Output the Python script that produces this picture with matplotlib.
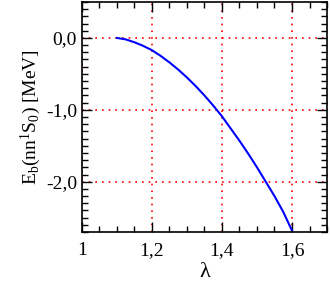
import numpy as np
import matplotlib
matplotlib.use("Agg")
import matplotlib.pyplot as plt
from matplotlib.ticker import MultipleLocator, FuncFormatter

#--- Data
lam = [1.10, 1.125, 1.15, 1.175, 1.20, 1.225, 1.25, 1.275, 1.30, 1.325, 1.35,
       1.375, 1.40, 1.425, 1.45, 1.475, 1.50, 1.525, 1.55, 1.575, 1.60]
e_b = [0.00, -0.02, -0.06, -0.11, -0.17, -0.25, -0.34, -0.44, -0.55, -0.67, -0.80,
       -0.94, -1.09, -1.26, -1.43, -1.61, -1.80, -2.00, -2.20, -2.42, -2.68]

plt.rcParams['font.family'] = 'Liberation Serif'
plt.rcParams['mathtext.fontset'] = 'custom'
plt.rcParams['mathtext.rm'] = 'Liberation Serif'
plt.rcParams['mathtext.it'] = 'Liberation Serif:italic'

fig = plt.figure(figsize=(3.3, 2.84), dpi=100)
ax = fig.add_axes([0.248, 0.183, 0.743, 0.810])

ax.plot(lam, e_b, color='blue', lw=1.5)

ax.set_xlim(1.0, 1.7)
ax.set_ylim(-2.7, 0.5)

ax.xaxis.set_major_locator(MultipleLocator(0.2))
ax.xaxis.set_minor_locator(MultipleLocator(0.05))
ax.yaxis.set_major_locator(MultipleLocator(1.0))
ax.yaxis.set_minor_locator(MultipleLocator(0.1))

def xfmt(v, pos):
    s = f"{v:.1f}"
    if s.endswith(".0"):
        s = s[:-2]
    return s.replace(".", ",")

def yfmt(v, pos):
    return f"{v:.1f}".replace(".", ",").replace("\u2212", "-")

ax.xaxis.set_major_formatter(FuncFormatter(xfmt))
ax.yaxis.set_major_formatter(FuncFormatter(yfmt))

ax.tick_params(which='both', direction='in', top=True, right=True, labelsize=14, width=1)
ax.tick_params(which='major', length=7)
ax.tick_params(which='minor', length=4)
ax.tick_params(axis='x', which='major', pad=7)
for sp in ax.spines.values():
    sp.set_linewidth(1.2)

ax.grid(which='major', color='red', linestyle=(0, (1, 3)), lw=1.2)

ax.set_xlabel('\u03bb', fontsize=16, labelpad=3)
ax.set_ylabel(r'E$_\mathrm{b}$(nn$^\mathrm{1}$S$_\mathrm{0}$) [MeV]', fontsize=14, labelpad=2)

fig.savefig('out.png', dpi=100)
